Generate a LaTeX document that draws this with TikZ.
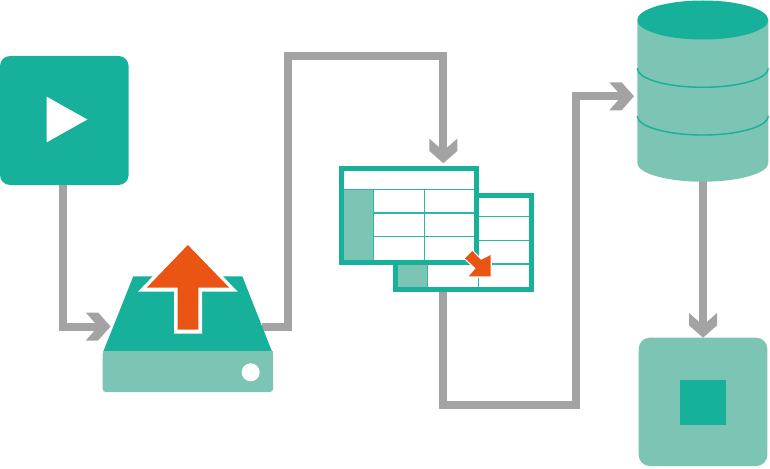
\documentclass[tikz,border=0pt]{standalone}
\definecolor{teal1}{HTML}{16B09B}
\definecolor{pale1}{HTML}{7CC4B4}
\definecolor{grey1}{HTML}{A3A3A3}
\definecolor{orange1}{HTML}{EA5514}
\pgfdeclarearrow{
  name=Chev,
  setup code={
    \pgfarrowssettipend{24.7pt}
    \pgfarrowssetlineend{14pt}
    \pgfarrowssetvisualtipend{24.7pt}
    \pgfarrowssetbackend{0pt}
    \pgfarrowssetvisualbackend{0pt}
    \pgfarrowshullpoint{24.7pt}{0pt}
    \pgfarrowshullpoint{0pt}{14pt}
    \pgfarrowshullpoint{0pt}{-14pt}
  },
  drawing code={
    \pgfpathmoveto{\pgfqpoint{0pt}{14pt}}
    \pgfpathlineto{\pgfqpoint{12.3pt}{14pt}}
    \pgfpathlineto{\pgfqpoint{24.7pt}{0pt}}
    \pgfpathlineto{\pgfqpoint{12.3pt}{-14pt}}
    \pgfpathlineto{\pgfqpoint{0pt}{-14pt}}
    \pgfpathlineto{\pgfqpoint{12.3pt}{0pt}}
    \pgfpathclose
    \pgfusepathqfill
  }
}
\tikzset{
  conn/.style={draw=grey1,line width=8pt,miter limit=10,-Chev},
  boxT/.style={fill=teal1,draw=none,rectangle,inner sep=0pt,outer sep=0pt},
  boxP/.style={fill=pale1,draw=none,rectangle,inner sep=0pt,outer sep=0pt},
  tline/.style={draw=teal1!90!white,line width=1.4pt},
  tframe/.style={draw=teal1,line width=5pt,fill=white,rectangle,inner sep=0pt,outer sep=0pt},
  band/.style={draw=teal1,line width=1.4pt},
}
\begin{document}
\begin{tikzpicture}[x=1pt,y=-1pt]
\useasboundingbox (0,0) rectangle (770,468);
% anchors
\coordinate (diskin) at (110.5,326.5);
\coordinate (diskout) at (262,326.5);
\coordinate (tablein) at (443.3,163.3);
\coordinate (tableout) at (443.3,290);
\coordinate (dbin) at (634,96.3);
\coordinate (dbout) at (703,170);
\coordinate (bend1a) at (287.6,326.5);
\coordinate (bend1b) at (287.6,56);
\coordinate (bend1c) at (443.3,56);
\coordinate (bend2a) at (443.3,404.5);
\coordinate (bend2b) at (575.7,404.5);
\coordinate (bend2c) at (575.7,96.3);
\coordinate (bend0) at (63.2,326.5);
% shapes named for connectors
\node[boxT,rounded corners=10pt,minimum width=128.6pt,minimum height=129pt] (play) at (64.3,120.5) {};
\node[boxP,rounded corners=11pt,minimum width=128.6pt,minimum height=128.3pt] (stop) at (703,401.85) {};
% connectors
\draw[conn] (play.south -| bend0) -- (bend0) -- (diskin);
\draw[conn] (diskout) -- (bend1a) -- (bend1b) -- (bend1c) -- (tablein);
\draw[conn] (tableout) -- (bend2a) -- (bend2b) -- (bend2c) -- (dbin);
\draw[conn] (dbout) -- (stop.north);
% play
\fill[white] (46.7,96.7) -- (87.3,119.5) -- (46.7,142.3) -- cycle;
% stop
\node[boxT,minimum width=45.4pt,minimum height=45pt] (stopsq) at (703,402.5) {};
% disk
\fill[teal1] (133.3,276.3) -- (242.3,276.3) -- (272,351.5) -- (103.3,351.5) -- cycle;
\fill[pale1,rounded corners=3pt] (102.7,351) -- (273,351) -- (273,392) -- (102.7,392) -- cycle;
\fill[pale1] (102.7,351) rectangle (273,356);
\fill[white] (250.7,372.3) circle[radius=9];
\fill[white] (187.85,239.8) -- (237.7,291.7) -- (202,291.7) -- (202,333.7) -- (174,333.7) -- (174,291.7) -- (138,291.7) -- cycle;
\fill[orange1] (187.85,245) -- (229.3,287.7) -- (198.3,287.7) -- (198.3,329.7) -- (177.7,329.7) -- (177.7,287.7) -- (146.7,287.7) -- cycle;
% back table
\node[tframe,minimum width=135.4pt,minimum height=93.7pt] (back) at (463.5,242.65) {};
\draw[tline] (427.7,265) -- (427.7,287);
\draw[tline] (478.7,265) -- (478.7,287);
\draw[tline] (478,216.3) -- (528.7,216.3);
\draw[tline] (478,240.3) -- (528.7,240.3);
\draw[tline] (398,264) -- (528.7,264);
\fill[pale1] (398.3,265) rectangle (427,287);
% front table
\node[tframe,minimum width=135.3pt,minimum height=94pt] (front) at (409.15,215.5) {};
\draw[tline] (344,189.3) -- (474.3,189.3);
\draw[tline] (373.7,189.3) -- (373.7,260);
\draw[tline] (424.3,189.3) -- (424.3,260);
\draw[tline] (344,213) -- (474.3,213);
\draw[tline] (344,236.7) -- (474.3,236.7);
\fill[pale1] (344,190) rectangle (373,260);
% small arrow
\draw[white,line width=2.4pt,fill=orange1,miter limit=10]
  (490.7,255) -- (490.7,276.4) -- (468.7,276.4) -- (475.7,268.3) -- (465,258.3) -- (472.3,251) -- (481,260) -- cycle;
\fill[orange1] (490.7,255) -- (490.7,276.4) -- (468.7,276.4) -- (475.7,268.3) -- (465,258.3) -- (472.3,251) -- (481,260) -- cycle;
% database
\fill[pale1] (637.3,20) -- (637.3,163) arc[start angle=180,end angle=0,x radius=65.5,y radius=18.7] -- (768.3,20) -- cycle;
\draw[band] (637.3,68.3) arc[start angle=180,end angle=0,x radius=65.5,y radius=19];
\draw[band] (637.3,116) arc[start angle=180,end angle=0,x radius=65.5,y radius=19];
\fill[teal1] (702.8,20) ellipse[x radius=65.5,y radius=19.5];
\end{tikzpicture}
\end{document}
